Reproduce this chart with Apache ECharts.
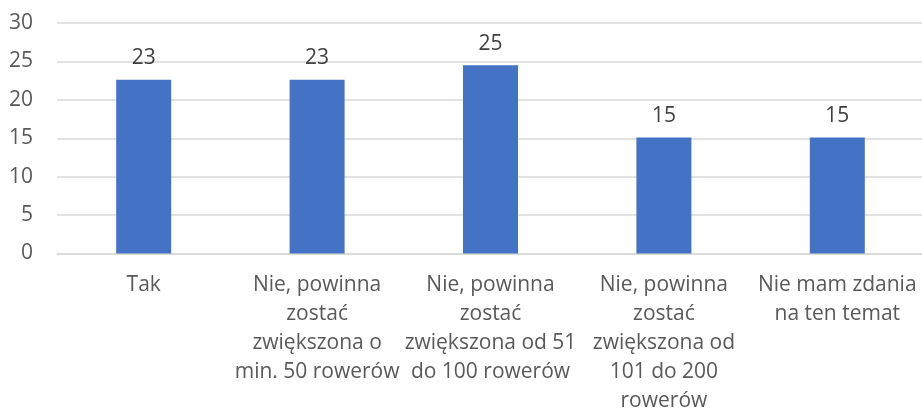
<!DOCTYPE html>
<html>
<head>
<meta charset="utf-8">
<script src="https://cdn.jsdelivr.net/npm/echarts@6/dist/echarts.min.js"></script>
<style>
  html, body { margin: 0; padding: 0; background: #fff; }
  #chart { width: 922px; height: 410px; }
</style>
</head>
<body>
<div id="chart"></div>
<script>
// answer categories (line breaks as in the original layout)
const categories = [
  'Tak',
  'Nie, powinna\nzostać\nzwiększona o\nmin. 50 rowerów',
  'Nie, powinna\nzostać\nzwiększona od 51\ndo 100 rowerów',
  'Nie, powinna\nzostać\nzwiększona od\n101 do 200\nrowerów',
  'Nie mam zdania\nna ten temat'
];
// share of answers (%), labels shown rounded
const values = [22.6, 22.6, 24.5, 15.1, 15.1];
const yTicks = [0, 5, 10, 15, 20, 25, 30];

const fontFamily = '"Open Sans", sans-serif';
const chart = echarts.init(document.getElementById('chart'));

chart.setOption({
  animation: false,
  grid: {
    left: 57, top: 23, width: 867, height: 230.5,
    containLabel: false,
    outerBoundsMode: 'none'
  },
  xAxis: {
    type: 'category',
    data: categories,
    axisLine: { lineStyle: { color: '#d9d9d9', width: 1.5 } },
    axisTick: { show: false },
    axisLabel: {
      interval: 0,
      margin: 17,
      color: '#595959',
      fontFamily: fontFamily,
      fontSize: 21,
      lineHeight: 29
    }
  },
  yAxis: {
    type: 'value',
    min: yTicks[0],
    max: yTicks[yTicks.length - 1],
    interval: 5,
    axisLine: { show: false },
    axisTick: { show: false },
    splitLine: { lineStyle: { color: '#d9d9d9', width: 1.5 } },
    axisLabel: {
      margin: 24,
      color: '#595959',
      fontFamily: fontFamily,
      fontSize: 21
    }
  },
  series: [{
    type: 'bar',
    data: values,
    barWidth: 55,
    itemStyle: { color: '#4472c4' },
    label: {
      show: true,
      position: 'top',
      distance: 11,
      color: '#404040',
      fontFamily: fontFamily,
      fontSize: 21,
      formatter: (p) => Math.round(p.value)
    }
  }]
});
</script>
</body>
</html>
